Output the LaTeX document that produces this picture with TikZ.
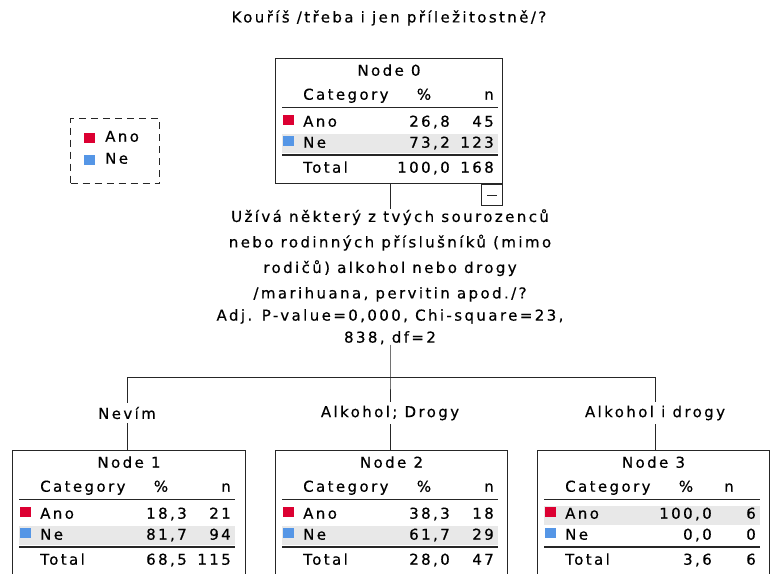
\documentclass[tikz,border=0pt]{standalone}
\usepackage{fontspec}
\setmainfont{DejaVu Sans}
\newfontfamily\tabfont{DejaVu Sans}[LetterSpace=16, FakeBold=0.5]
\usetikzlibrary{positioning, calc}
\definecolor{anored}{RGB}{220,0,50}
\definecolor{neblue}{RGB}{85,150,230}
\definecolor{rowgray}{RGB}{232,232,232}

\begin{document}
\begin{tikzpicture}[
        x=1pt, y=-1pt,
        tree/.style={draw=black!85, line width=1pt, anchor=north west, inner sep=0pt},
        cell/.style={font=\fontsize{15}{17}\selectfont\tabfont, inner sep=0pt},
        quest/.style={font=\fontsize{15}{25.5}\selectfont\tabfont, align=center, inner sep=0pt},
        branch/.style={cell, inner ysep=4pt},
        swatch/.style={minimum width=11pt, minimum height=10pt, inner sep=0pt},
        link/.style={draw=black!85, line width=1pt},
        rule/.style={draw=black!85, line width=1pt}
    ]
        \useasboundingbox (0,0) rectangle (770,573);
        \clip (0,0) rectangle (770,573);
        \node[cell] (title) at (389,18) {Kouříš /třeba i jen příležitostně/?};
        % legend
        \node[tree, dash pattern=on 7pt off 5pt, minimum width=89pt, minimum height=65pt] (legend) at (70,118) {};
        \node[swatch, fill=anored] (legano) at (89,138) {};
        \node[cell, anchor=mid west] (legtxtano) at (105,139) {Ano};
        \node[swatch, fill=neblue] (legne) at (89,160) {};
        \node[cell, anchor=mid west] (legtxtne) at (105,161) {Ne};
        % boxes
        \node[tree, minimum width=227pt, minimum height=125pt] (n0) at (275,58) {};
        \node[tree, minimum width=233pt, minimum height=140pt] (n1) at (12,450) {};
        \node[tree, minimum width=232pt, minimum height=140pt] (n2) at (275,450) {};
        \node[tree, minimum width=232pt, minimum height=140pt] (n3) at (537,450) {};
        \node[tree, anchor=north east, minimum width=21pt, minimum height=21pt] (fold) at (n0.south east) {};
        \draw[link] ([shift={(-5,0)}]fold.center) -- ([shift={(5,0)}]fold.center);
        % tables
        \foreach \nd/\row/\nx/\lbl/\ap/\an/\np/\nn/\tp/\tn in {
            n0/76/214/Node 0/{26,8}/45/{73,2}/123/{100,0}/168,
            n1/76/214/Node 1/{18,3}/21/{81,7}/94/{68,5}/115,
            n2/76/214/Node 2/{38,3}/18/{61,7}/29/{28,0}/47,
            n3/56/192/Node 3/{100,0}/6/{0,0}/0/{3,6}/6} {
            \fill[rowgray] ([shift={(7,\row)}]\nd.north west) rectangle ++(216,19);
            \draw[rule] ([shift={(7,49)}]\nd.north west) -- ++(216,0);
            \draw[rule, line width=1.8pt] ([shift={(7,97)}]\nd.north west) -- ++(216,0);
            \node[cell, anchor=mid] (\nd-name) at ([shift={(0,15)}]\nd.north) {\lbl};
            \node[cell, anchor=mid west] (\nd-cat) at ([shift={(28,39)}]\nd.north west) {Category};
            \node[cell, anchor=mid] (\nd-pct) at ([shift={(149,39)}]\nd.north west) {\%};
            \node[cell, anchor=mid] (\nd-n) at ([shift={(\nx,39)}]\nd.north west) {n};
            \node[swatch, fill=anored] (\nd-sqano) at ([shift={(13,62)}]\nd.north west) {};
            \node[swatch, fill=neblue] (\nd-sqne) at ([shift={(13,83)}]\nd.north west) {};
            \node[cell, anchor=mid west] (\nd-ano) at ([shift={(28,66)}]\nd.north west) {Ano};
            \node[cell, anchor=mid west] (\nd-ne) at ([shift={(28,87)}]\nd.north west) {Ne};
            \node[cell, anchor=mid west] (\nd-tot) at ([shift={(28,112)}]\nd.north west) {Total};
            \node[cell, anchor=mid east] (\nd-ap) at ([shift={(175,66)}]\nd.north west) {\ap};
            \node[cell, anchor=mid east] (\nd-an) at ([shift={(219,66)}]\nd.north west) {\an};
            \node[cell, anchor=mid east] (\nd-np) at ([shift={(175,87)}]\nd.north west) {\np};
            \node[cell, anchor=mid east] (\nd-nn) at ([shift={(219,87)}]\nd.north west) {\nn};
            \node[cell, anchor=mid east] (\nd-tp) at ([shift={(175,112)}]\nd.north west) {\tp};
            \node[cell, anchor=mid east] (\nd-tn) at ([shift={(219,112)}]\nd.north west) {\tn};
        }
        % split
        \node[quest, anchor=north] (quest) at (390,209) {Užívá některý z tvých sourozenců\\nebo rodinných příslušníků (mimo\\rodičů) alkohol nebo drogy\\/marihuana, pervitin apod./?};
        \node[quest, anchor=north, font=\fontsize{15}{22}\selectfont\tabfont] (stat) at (390,309) {Adj. P-value=0,000, Chi-square=23,\\838, df=2};
        \coordinate (split) at (390,377);
        \node[branch] (lab1) at (127,413) {Nevím};
        \node[branch] (lab2) at (390,413) {Alkohol; Drogy};
        \node[branch] (lab3) at (655,413) {Alkohol i drogy};
        \draw[link] (quest.north |- n0.south) -- (quest.north);
        \draw[link] (stat.south) -- (split) -- (lab2.north);
        \draw[link] (lab1.north) -- (lab1.north |- split) -- (lab3.north |- split) -- (lab3.north);
        \draw[link] (lab1.south) -- (lab1.south |- n1.north);
        \draw[link] (lab2.south) -- (lab2.south |- n2.north);
        \draw[link] (lab3.south) -- (lab3.south |- n3.north);
    \end{tikzpicture}
\end{document}
